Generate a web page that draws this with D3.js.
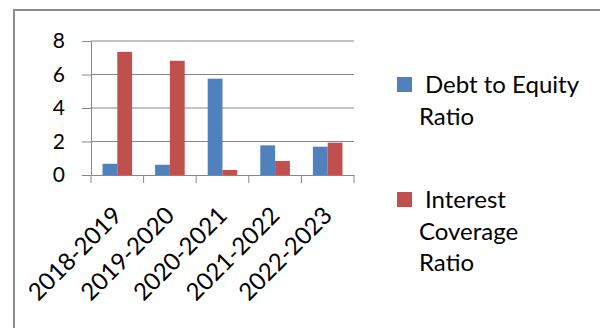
<!DOCTYPE html>
<html>
<head>
<meta charset="utf-8">
<script src="https://cdn.jsdelivr.net/npm/d3@7"></script>
<style>
  body { margin: 0; background: #fff; }
  svg text { font-family: Lato, "Open Sans", sans-serif; fill: #000; }
</style>
</head>
<body>
<div id="chart"></div>
<script>
const years = ["2018-2019", "2019-2020", "2020-2021", "2021-2022", "2022-2023"];
const seriesNames = ["Debt to Equity Ratio", "Interest Coverage Ratio"];
const debtToEquity = [0.67, 0.61, 5.75, 1.77, 1.69];
const interestCoverage = [7.35, 6.82, 0.3, 0.84, 1.93];
const yTicks = [0, 2, 4, 6, 8];
const legendLines = [["Debt to Equity", "Ratio"], ["Interest", "Coverage", "Ratio"]];

const colors = ["#4f81bd", "#c0504d"];
const W = 600, H = 328;
const margin = { top: 41, left: 91, right: 246, bottom: 153 };
const width = W - margin.left - margin.right;
const height = H - margin.top - margin.bottom;

const svg = d3.select("#chart").append("svg")
    .attr("width", W)
    .attr("height", H);

// chart frame
svg.append("rect")
    .attr("x", 14).attr("y", 10)
    .attr("width", 620).attr("height", 340)
    .attr("fill", "none")
    .attr("stroke", "#8c8c8c")
    .attr("stroke-width", 2);

const g = svg.append("g")
    .attr("transform", `translate(${margin.left}, ${margin.top})`);

const x = d3.scaleBand()
    .domain(years)
    .range([0, width])
    .paddingInner(0)
    .paddingOuter(0);

const x1 = d3.scaleBand()
    .domain([0, 1])
    .range([11.5, x.bandwidth() - 11.5]);

const y = d3.scaleLinear()
    .domain([0, 8])
    .range([height, 0]);

// gridlines
g.selectAll(".grid")
    .data(yTicks.filter(d => d > 0))
    .enter().append("line")
    .attr("x1", 0).attr("x2", width)
    .attr("y1", d => y(d)).attr("y2", d => y(d))
    .attr("stroke", "#878787")
    .attr("stroke-width", 1);

// bars
const data = years.map((yr, i) => ({ year: yr, values: [debtToEquity[i], interestCoverage[i]] }));

const groups = g.selectAll(".bar-group")
    .data(data)
    .enter().append("g")
    .attr("class", "bar-group")
    .attr("transform", d => `translate(${x(d.year)}, 0)`);

groups.selectAll("rect")
    .data(d => d.values)
    .enter().append("rect")
    .attr("x", (d, i) => x1(i))
    .attr("width", x1.bandwidth())
    .attr("y", d => y(d))
    .attr("height", d => height - y(d))
    .attr("fill", (d, i) => colors[i]);

// y axis
const yAxis = g.append("g")
    .call(d3.axisLeft(y).tickValues(yTicks).tickSize(9).tickPadding(17));
yAxis.selectAll("path, line").attr("stroke", "#878787");
yAxis.selectAll("text").style("font-size", "21px");

// x axis
const xAxis = g.append("g")
    .attr("transform", `translate(0, ${height})`)
    .call(d3.axisBottom(x).tickSize(0).tickFormat(""));
xAxis.select("path").attr("stroke", "#878787");

g.selectAll(".xtick")
    .data(d3.range(years.length + 1))
    .enter().append("line")
    .attr("x1", i => i * x.bandwidth()).attr("x2", i => i * x.bandwidth())
    .attr("y1", height).attr("y2", height + 8)
    .attr("stroke", "#878787");

g.selectAll(".xlabel")
    .data(years)
    .enter().append("text")
    .attr("class", "xlabel")
    .attr("text-anchor", "end")
    .style("font-size", "24px")
    .attr("transform", d => `translate(${x(d) + x.bandwidth() / 2 + 6}, ${height + 42}) rotate(-45)`)
    .text(d => d);

// legend
const legend = svg.append("g");
const legendY = [77, 192];
legendLines.forEach((lines, i) => {
    legend.append("rect")
        .attr("x", 397).attr("y", legendY[i])
        .attr("width", 15).attr("height", 15)
        .attr("fill", colors[i]);
    lines.forEach((ln, j) => {
        legend.append("text")
            .attr("x", j === 0 ? 425 : 419)
            .attr("y", legendY[i] + 16 + j * 31.5)
            .style("font-size", "24px")
            .text(ln);
    });
});
</script>
</body>
</html>
